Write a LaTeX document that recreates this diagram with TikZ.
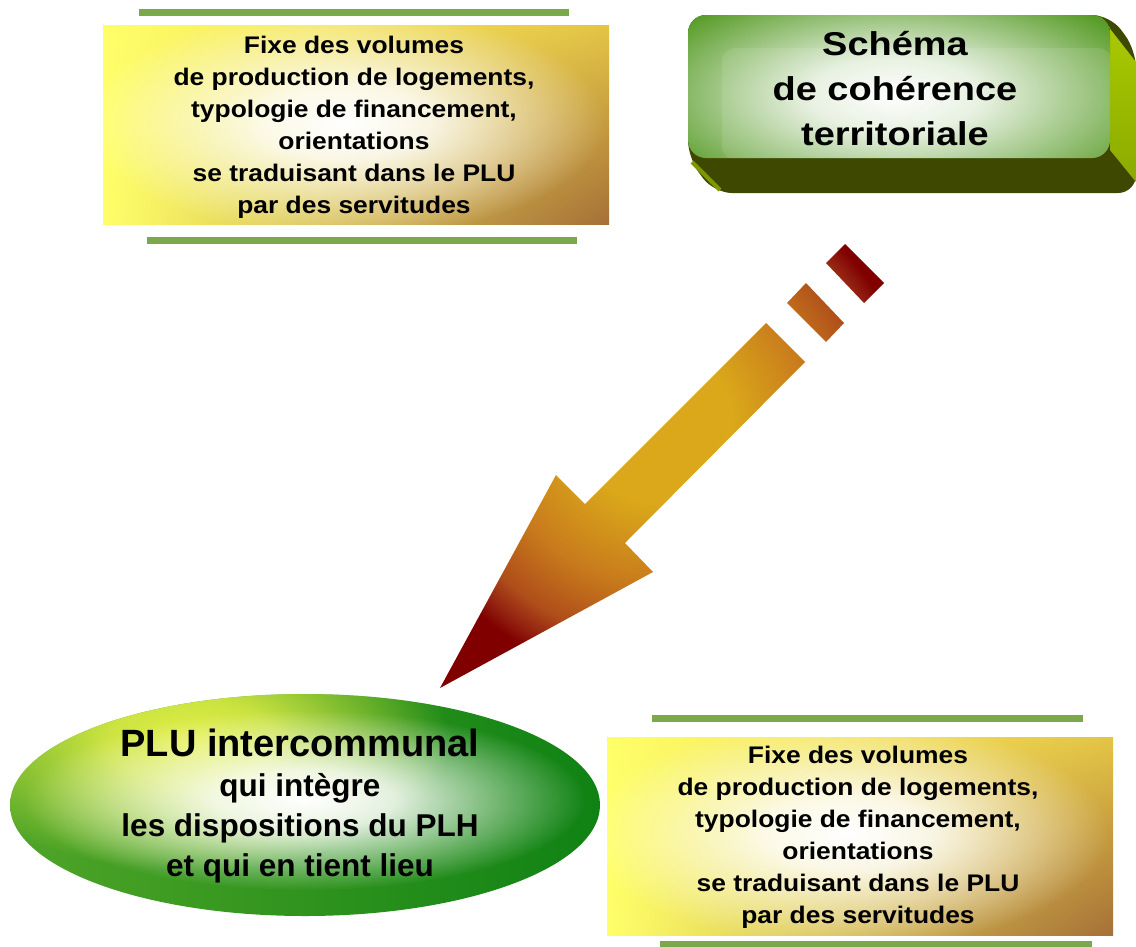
\documentclass[tikz,border=0pt]{standalone}
\usepackage{fontspec}
\setmainfont{Liberation Sans}
\newfontfamily\boxfont[FakeStretch=1.1]{Liberation Sans}
\newfontfamily\scotfont[FakeStretch=1.15]{Liberation Sans}
\usetikzlibrary{fadings,shadings}
\definecolor{lineg}{RGB}{122,168,74}
\definecolor{ybl}{RGB}{255,255,105}
\definecolor{ybr1}{RGB}{228,196,70}
\definecolor{ybr2}{RGB}{165,112,55}
\definecolor{frontg}{RGB}{88,156,40}
\definecolor{olive3d}{RGB}{62,72,0}
\definecolor{lime3d}{RGB}{170,204,0}
\definecolor{lime3dd}{RGB}{140,170,0}
\definecolor{ellL}{RGB}{80,165,40}
\definecolor{ellR}{RGB}{15,130,20}
\definecolor{ellY}{RGB}{228,240,70}
\definecolor{agold}{RGB}{218,168,26}
\definecolor{aorange}{RGB}{200,122,28}
\definecolor{abrown}{RGB}{175,78,26}
\definecolor{ared}{RGB}{142,26,14}
\definecolor{adred}{RGB}{128,0,0}
\pgfdeclareradialshading{glowsh}{\pgfpointorigin}{color(0bp)=(white); color(8bp)=(white!85!black); color(25bp)=(black); color(50bp)=(black)}
\pgfdeclarefading{glow}{\pgfuseshading{glowsh}}
\pgfdeclareradialshading{arrowsh}{\pgfpointorigin}{color(0bp)=(agold); color(6.5bp)=(agold); color(13.3bp)=(aorange); color(17.9bp)=(abrown); color(20.4bp)=(ared); color(21.5bp)=(adred); color(50bp)=(adred)}
\tikzset{
  gline/.style={line width=7pt, draw=lineg},
  fixtext/.style={inner sep=0pt, align=center, text=black, font=\boxfont\bfseries\fontsize{24}{32}\selectfont},
  scottext/.style={inner sep=0pt, align=center, text=black, font=\scotfont\bfseries\fontsize{33}{45}\selectfont},
  elltext/.style={inner sep=0pt, align=center, text=black, font=\bfseries\fontsize{31.5}{40}\selectfont},
}
\begin{document}
\begin{tikzpicture}[x=1pt,y=-1pt]
\useasboundingbox (0,0) rectangle (1136,946);
\fill[white] (0,0) rectangle (1136,946);

% ---- top-left box
\draw[gline] (139,12) -- (569,12);
\draw[gline] (147,240) -- (577,240);
\shade[upper left=ybl, lower left=ybl, upper right=ybr1, lower right=ybr2] (103,25) rectangle (609,224);
\begin{scope}
  \clip (103,25) rectangle (609,224);
  \fill[white, path fading=glow] (345,122) ellipse (260 and 115);
\end{scope}
\node[fixtext] (fix1) at (354,127) {Fixe des volumes\\de production de logements,\\typologie de financement,\\orientations\\se traduisant dans le PLU\\par des servitudes};

% ---- bottom-right box
\draw[gline] (652,718) -- (1083,718);
\draw[gline] (660,944) -- (1092,944);
\shade[upper left=ybl, lower left=ybl, upper right=ybr1, lower right=ybr2] (607,737) rectangle (1113,935);
\begin{scope}
  \clip (607,737) rectangle (1113,935);
  \fill[white, path fading=glow] (848,833) ellipse (260 and 115);
\end{scope}
\node[fixtext] (fix2) at (858,837) {Fixe des volumes\\de production de logements,\\typologie de financement,\\orientations\\se traduisant dans le PLU\\par des servitudes};

% ---- 3D box (SCoT)
\fill[olive3d, rounded corners=18] (688,15) -- (1110,15) -- (1136,50) -- (1136,193) -- (714,193) -- (688,158) -- cycle;
\shade[top color=lime3d, bottom color=lime3dd] (1100,16) -- (1136,62) -- (1136,182) -- (1110,150) -- (1110,28) -- cycle;
\draw[lime3d!60!olive3d, line width=4pt] (692,162) -- (720,190);
\fill[frontg, rounded corners=18] (688,15) rectangle (1110,158);
\begin{scope}
  \clip[rounded corners=18] (688,15) rectangle (1110,158);
  \fill[white, path fading=glow] (895,95) ellipse (270 and 115);
  \fill[white, opacity=0.10, rounded corners=14] (722,48) rectangle (1112,160);
\end{scope}
\node[scottext] (scot) at (895,89) {Schéma\\de cohérence\\territoriale};

% ---- arrow
\begin{scope}
  \clip (440,688) -- (556,475) -- (585,504) -- (766,323) -- (805,362) -- (625,543) -- (653,572) -- cycle
        (787,303) -- (806,283) -- (844,323) -- (826,342) -- cycle
        (826,263) -- (845,244) -- (884,283) -- (864,303) -- cycle;
  \shade[shading=arrowsh] (355,125) rectangle (955,725);
\end{scope}

% ---- ellipse (PLUi)
\shade[left color=ellL, right color=ellR] (305,805) ellipse (295 and 111);
\begin{scope}
  \clip (305,805) ellipse (295 and 111);
  \fill[ellY, path fading=glow] (190,740) ellipse (260 and 130);
  \fill[white, path fading=glow] (305,800) ellipse (280 and 90);
\end{scope}
\node[elltext] (plui) at (300,806) {{\fontsize{38}{40}\selectfont PLU intercommunal}\\qui intègre\\les dispositions du PLH\\et qui en tient lieu};
\end{tikzpicture}
\end{document}
